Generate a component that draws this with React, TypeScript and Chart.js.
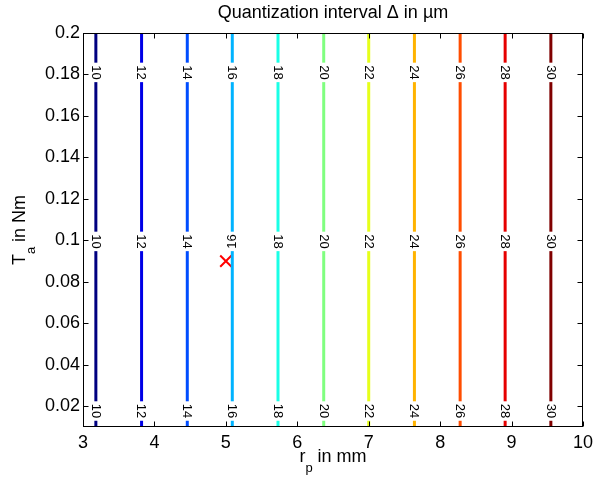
import React, { useEffect, useRef } from 'react';
import { Chart, registerables } from 'chart.js';

Chart.register(...registerables);

// ---- data ----
const contourLevels = [10, 12, 14, 16, 18, 20, 22, 24, 26, 28, 30];
const contourX = [3.18, 3.82, 4.46, 5.09, 5.73, 6.37, 7.0, 7.64, 8.28, 8.91, 9.55];
const xLimits = [3, 10];
const yLimits = [0.01, 0.2];
const labelRowsY = [0.181, 0.0995, 0.0177];
const flippedLabels = [[16, 1]]; // [level, row] drawn reading upward
const xTickValues = [3, 4, 5, 6, 7, 8, 9, 10];
const yTickValues = [0.02, 0.04, 0.06, 0.08, 0.1, 0.12, 0.14, 0.16, 0.18, 0.2];
const markerPoint = [{ x: 5, y: 0.09 }];

const titleText = 'Quantization interval \u0394 in \u00b5m';
const xTitleParts = [['r', 0], ['p', 1], [' in mm', 0]];
const yTitleParts = [['T', 0], ['a', 1], [' in Nm', 0]];

// ---- styles ----
const jetColors = ['#000080', '#0000E6', '#004DFF', '#00B3FF', '#1AFFE6', '#80FF80', '#E6FF1A', '#FFB300', '#FF4D00', '#E60000', '#800000'];
const FONT = '"Liberation Sans", Arial, Helvetica, sans-serif';

function drawParts(ctx: CanvasRenderingContext2D, parts: any[], cx: number, base: number) {
  const sizes = [18, 13];
  let total = 0;
  parts.forEach(([t, sub]) => {
    ctx.font = `${sizes[sub]}px ${FONT}`;
    total += ctx.measureText(t).width;
  });
  let x = cx - total / 2;
  ctx.textAlign = 'left';
  ctx.textBaseline = 'alphabetic';
  parts.forEach(([t, sub]) => {
    ctx.font = `${sizes[sub]}px ${FONT}`;
    ctx.fillText(t, x, base + (sub ? 10 : 0));
    x += ctx.measureText(t).width;
  });
}

const decorPlugin = {
  id: 'decor',
  afterDatasetsDraw(chart: any) {
    const { ctx, scales } = chart;
    const x = scales.x, y = scales.y;
    ctx.save();
    ctx.font = `13px ${FONT}`;
    contourLevels.forEach((lvl, i) => {
      const px = x.getPixelForValue(contourX[i]);
      labelRowsY.forEach((ly, r) => {
        const py = y.getPixelForValue(ly);
        const flip = flippedLabels.some(([l, rr]) => l === lvl && rr === r);
        const text = String(lvl);
        const w = ctx.measureText(text).width;
        ctx.save();
        ctx.translate(px, py);
        ctx.rotate(flip ? -Math.PI / 2 : Math.PI / 2);
        ctx.fillStyle = '#ffffff';
        ctx.fillRect(-w / 2 - 2.5, -2.5, w + 5, 5);
        ctx.fillStyle = '#000000';
        ctx.textAlign = 'center';
        ctx.textBaseline = 'middle';
        ctx.fillText(text, 0, 0.5);
        ctx.restore();
      });
    });
    ctx.restore();
  },
  afterDraw(chart: any) {
    const { ctx, chartArea: ca, scales } = chart;
    const x = scales.x, y = scales.y;
    ctx.save();
    ctx.strokeStyle = '#000';
    ctx.lineWidth = 1;
    const L = Math.round(ca.left) + 0.5, R = Math.round(ca.right) - 0.5;
    const T = Math.round(ca.top) + 0.5, B = Math.round(ca.bottom) - 0.5;
    ctx.strokeRect(L, T, R - L, B - T);
    const tl = 5;
    ctx.beginPath();
    xTickValues.forEach((v) => {
      const px = Math.round(x.getPixelForValue(v)) + 0.5;
      ctx.moveTo(px, B); ctx.lineTo(px, B - tl);
      ctx.moveTo(px, T); ctx.lineTo(px, T + tl);
    });
    yTickValues.forEach((v) => {
      const py = Math.round(y.getPixelForValue(v)) + 0.5;
      ctx.moveTo(L, py); ctx.lineTo(L + tl, py);
      ctx.moveTo(R, py); ctx.lineTo(R - tl, py);
    });
    ctx.stroke();

    ctx.fillStyle = '#000';
    ctx.font = `18px ${FONT}`;
    ctx.textAlign = 'center';
    ctx.textBaseline = 'alphabetic';
    const cx = (ca.left + ca.right) / 2;
    ctx.fillText(titleText, cx, 18);

    drawParts(ctx, xTitleParts, cx, 462);

    ctx.save();
    ctx.translate(25, (ca.top + ca.bottom) / 2);
    ctx.rotate(-Math.PI / 2);
    drawParts(ctx, yTitleParts, 0, 0);
    ctx.restore();
    ctx.restore();
  },
};

export default function App() {
  const ref = useRef<HTMLCanvasElement>(null);
  useEffect(() => {
    if (!ref.current) return;
    const datasets: any[] = contourLevels.map((lvl, i) => ({
      label: String(lvl),
      data: [
        { x: contourX[i], y: yLimits[0] },
        { x: contourX[i], y: yLimits[1] },
      ],
      showLine: true,
      borderColor: jetColors[i],
      backgroundColor: jetColors[i],
      borderWidth: 3,
      borderCapStyle: 'butt',
      pointRadius: 0,
      pointHoverRadius: 0,
    }));
    datasets.push({
      label: 'point',
      data: markerPoint,
      showLine: false,
      pointStyle: 'crossRot',
      pointRadius: 8,
      borderColor: '#ff0000',
      backgroundColor: '#ff0000',
      pointBorderWidth: 2,
      borderWidth: 2,
    });
    const chart = new Chart(ref.current, {
      type: 'scatter',
      data: { datasets },
      plugins: [decorPlugin],
      options: {
        animation: false,
        responsive: false,
        devicePixelRatio: 1,
        events: [],
        layout: { padding: { left: 0, right: 20, top: 33, bottom: 0 } },
        plugins: { legend: { display: false }, title: { display: false }, tooltip: { enabled: false } },
        scales: {
          x: {
            type: 'linear',
            min: xLimits[0],
            max: xLimits[1],
            grid: { display: false, drawTicks: false },
            border: { display: false },
            afterBuildTicks: (s: any) => { s.ticks = xTickValues.map((v) => ({ value: v })); },
            afterFit: (s: any) => { s.height = 54; },
            ticks: {
              color: '#000',
              padding: 5,
              maxRotation: 0,
              font: { family: FONT, size: 18 },
              callback: (v: any) => String(v),
            },
          },
          y: {
            type: 'linear',
            min: yLimits[0],
            max: yLimits[1],
            grid: { display: false, drawTicks: false },
            border: { display: false },
            afterBuildTicks: (s: any) => { s.ticks = yTickValues.map((v) => ({ value: v })); },
            afterFit: (s: any) => { s.width = 83; },
            ticks: {
              color: '#000',
              padding: 3,
              font: { family: FONT, size: 18 },
              callback: (v: any) => String(+Number(v).toFixed(2)),
            },
          },
        },
      },
    });
    return () => chart.destroy();
  }, []);
  return (
    <div style={{ position: 'absolute', left: 0, top: 0, width: 603, height: 481, background: '#fff' }}>
      <canvas ref={ref} width={603} height={481} style={{ width: 603, height: 481, display: 'block' }} />
    </div>
  );
}
